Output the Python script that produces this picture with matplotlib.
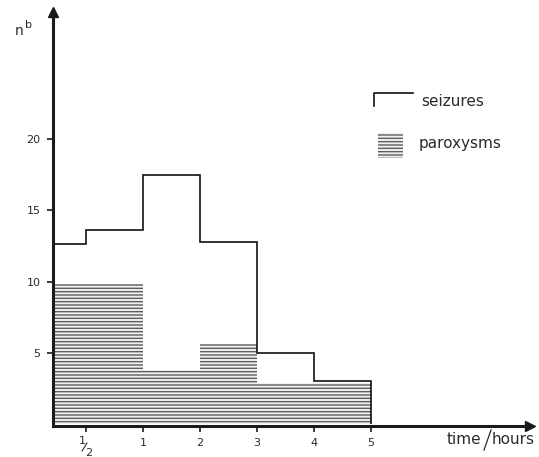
#!/usr/bin/env python3
"""Histogramme seizures / paroxysms en fonction du temps."""

import matplotlib

matplotlib.use("Agg")
import matplotlib.pyplot as plt  # noqa: E402
from matplotlib.lines import Line2D  # noqa: E402
from matplotlib.patches import Rectangle  # noqa: E402


# data (one value per bin, bins end at each tick)
tick_labels = ["1/2", "1", "2", "3", "4", "5"]
seizures = [12.6, 13.6, 17.5, 12.8, 5.0, 3.0]
paroxysms = [9.8, 9.8, 3.8, 5.6, 2.9, 2.9]
y_ticks = [5, 10, 15, 20]

W, H = 539, 457
DPI = 100
TEXT = "#2a2a2a"
HATCH = "#5e5e5e"
plt.rcParams["font.family"] = ["DejaVu Sans"]
plt.rcParams["hatch.linewidth"] = 1.0


def fx(px):
    return px / W


def fy(py):
    return 1.0 - py / H


# layout in pixels of the reference
axis_x, axis_y = 53, 426
top_y, right_x = 12, 530
zero_y, unit_y = 424, 14.25
first_tick_x, tick_step = 86, 57

fig = plt.figure(figsize=(W / DPI, H / DPI), dpi=DPI)
ax = fig.add_axes([fx(axis_x), fy(axis_y), fx(right_x - axis_x), (axis_y - top_y) / H])

positions = list(range(1, len(tick_labels) + 1))
x_left = 1 - (first_tick_x - axis_x) / tick_step
x_right = 1 + (right_x - first_tick_x) / tick_step
edges = [x_left] + positions

ax.set_xlim(x_left, x_right)
ax.set_ylim(-(axis_y - zero_y) / unit_y, (zero_y - top_y) / unit_y)

ax.stairs(
    paroxysms,
    edges,
    baseline=0,
    fill=True,
    facecolor="#f0f0f0",
    edgecolor=HATCH,
    linewidth=0,
    hatch="-----",
    zorder=1,
)
ax.stairs(seizures, edges, baseline=0, fill=False, color="#111111", linewidth=1.2, zorder=2)

for side in ("top", "right"):
    ax.spines[side].set_visible(False)
for side in ("left", "bottom"):
    ax.spines[side].set_linewidth(2.2)
    ax.spines[side].set_color("#1a1a1a")
ax.plot(0, 1, "^", transform=ax.transAxes, clip_on=False, ms=7, color="#1a1a1a")
ax.plot(1, 0, ">", transform=ax.transAxes, clip_on=False, ms=7, color="#1a1a1a")

ax.set_yticks(y_ticks)
ax.set_yticklabels([str(v) for v in y_ticks])
ax.set_xticks(positions)
ax.set_xticklabels(["" if "/" in lab else lab for lab in tick_labels])
ax.tick_params(axis="both", direction="out", length=4, width=1.2, color="#1a1a1a",
               labelsize=8, labelcolor=TEXT, pad=5)

# stacked fraction label(s)
for pos, lab in zip(positions, tick_labels):
    if "/" in lab:
        num, den = lab.split("/")
        base = ax.transData.transform((pos, 0))[0] / W
        fig.text(base - fx(4), fy(441), num, ha="center", va="center", fontsize=8, color=TEXT)
        fig.text(base + fx(3), fy(453), den, ha="center", va="center", fontsize=8, color=TEXT)
        fig.add_artist(Line2D([base - fx(4), base + fx(1)], [fy(451), fy(443)],
                              color=TEXT, linewidth=0.8))

# axis labels
fig.text(fx(15), fy(35), "n", ha="left", va="baseline", fontsize=10, color=TEXT)
fig.text(fx(25), fy(28), "b", ha="left", va="baseline", fontsize=8, color=TEXT)
fig.text(fx(481), fy(444), "time", ha="right", va="baseline", fontsize=11, color=TEXT)
fig.add_artist(Line2D([fx(484), fx(491)], [fy(450), fy(430)], color=TEXT, linewidth=0.9))
fig.text(fx(492), fy(444), "hours", ha="left", va="baseline", fontsize=11, color=TEXT)

# legend
fig.add_artist(Line2D([fx(374), fx(374), fx(413)], [fy(106), fy(93), fy(93)],
                      color="#111111", linewidth=1.2))
fig.text(fx(421), fy(106), "seizures", ha="left", va="baseline", fontsize=11, color=TEXT)
fig.add_artist(Rectangle((fx(378), fy(158)), fx(25), (158 - 133) / H, transform=fig.transFigure,
                         facecolor="#f0f0f0", edgecolor=HATCH, linewidth=0, hatch="-----"))
fig.text(fx(419), fy(148), "paroxysms", ha="left", va="baseline", fontsize=11, color=TEXT)

fig.savefig("out.png", dpi=DPI)
